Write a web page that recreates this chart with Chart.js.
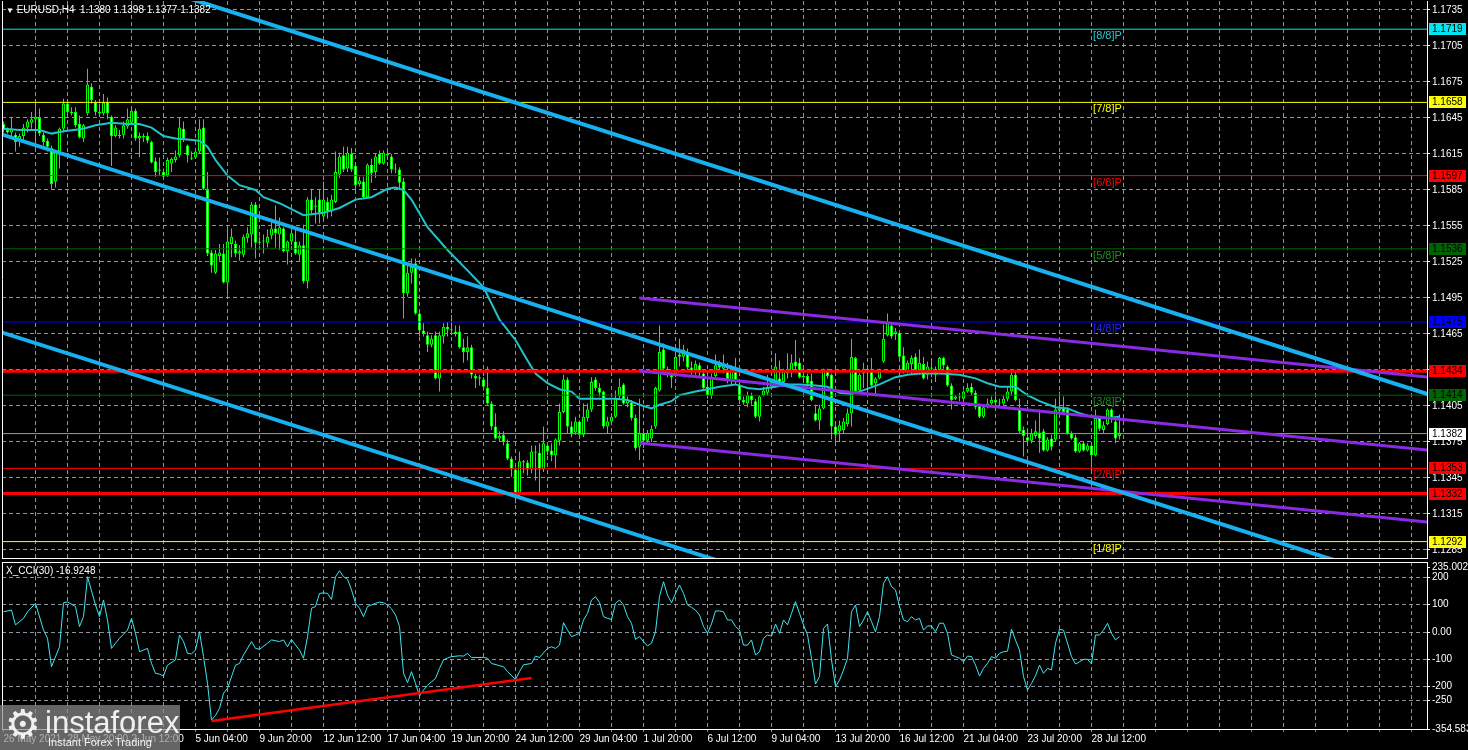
<!DOCTYPE html>
<html>
<head>
<meta charset="utf-8">
<title>EURUSD H4</title>
<script src="https://cdn.jsdelivr.net/npm/chart.js@4.4.1/dist/chart.umd.min.js"></script>
<style>
  html, body { margin: 0; padding: 0; background: #000; overflow: hidden; }
  #wrap { position: relative; width: 1468px; height: 750px; background: #000; }
  canvas { position: absolute; left: 0; }
  #main { top: 0; }
  #cci { top: 560px; }
  .t { position: absolute; color: #fff; font: 10px "Liberation Sans", Arial, sans-serif; white-space: pre; }
  #logo { position: absolute; left: 0; top: 705px; width: 180px; height: 45px; background: rgba(140,140,140,0.72); color: rgba(255,255,255,0.9); font-family: "Liberation Sans", Arial, sans-serif; }
  #logo span { position: absolute; white-space: pre; }
</style>
</head>
<body>
<div id="wrap">
  <canvas id="main" width="1468" height="560"></canvas>
  <canvas id="cci" width="1468" height="190"></canvas>
  <div class="t" style="left:6px;top:4px"><span style="font-size:8px">▼</span> EURUSD,H4  1.1380 1.1398 1.1377 1.1382</div>
  <div class="t" style="left:6px;top:565px">X_CCI(30) -16.9248</div>
  <div id="logo">
    <span style="left:5px;top:-4px;font-family:'DejaVu Sans';font-size:40px">⚙</span>
    <span style="left:45px;top:0px;font-size:31px">instaforex</span>
    <span style="left:48px;top:31px;font-size:11px">Instant Forex Trading</span>
  </div>
</div>
<script>
// EURUSD H4 candles, bar 0 = 26 May 2021 (one bar = 4 hours)
var open = [
  1.1640,1.1635,1.1633,1.1631,1.1626,1.1630,1.1637,1.1641,1.1644,1.1645,
  1.1631,1.1626,1.1620,1.1592,1.1617,1.1636,1.1657,1.1650,1.1650,1.1640,
  1.1628,1.1649,1.1671,1.1658,1.1649,1.1649,1.1658,1.1646,1.1630,1.1631,
  1.1631,1.1638,1.1641,1.1651,1.1628,1.1630,1.1630,1.1625,1.1609,1.1601,
  1.1600,1.1597,1.1607,1.1610,1.1614,1.1636,1.1622,1.1612,1.1612,1.1617,
  1.1637,1.1585,1.1533,1.1516,1.1530,1.1532,1.1508,1.1540,1.1540,1.1532,
  1.1531,1.1545,1.1548,1.1573,1.1541,1.1542,1.1541,1.1547,1.1553,1.1548,
  1.1553,1.1534,1.1542,1.1542,1.1531,1.1539,1.1509,1.1577,1.1571,1.1577,
  1.1563,1.1575,1.1567,1.1575,1.1598,1.1614,1.1603,1.1615,1.1605,1.1590,
  1.1592,1.1579,1.1606,1.1600,1.1615,1.1607,1.1615,1.1613,1.1602,1.1602,
  1.1592,1.1499,1.1516,1.1524,1.1482,1.1468,1.1464,1.1456,1.1464,1.1428,
  1.1463,1.1471,1.1469,1.1467,1.1467,1.1454,1.1450,1.1454,1.1430,1.1428,
  1.1427,1.1420,1.1407,1.1388,1.1378,1.1381,1.1374,1.1361,1.1352,1.1332,
  1.1359,1.1358,1.1352,1.1367,1.1366,1.1352,1.1372,1.1368,1.1364,1.1376,
  1.1400,1.1427,1.1388,1.1383,1.1392,1.1381,1.1395,1.1402,1.1427,1.1420,
  1.1417,1.1388,1.1392,1.1396,1.1413,1.1423,1.1407,1.1408,1.1395,1.1371,
  1.1382,1.1376,1.1378,1.1388,1.1418,1.1452,1.1436,1.1432,1.1430,1.1448,
  1.1446,1.1450,1.1437,1.1435,1.1439,1.1432,1.1421,1.1414,1.1430,1.1440,
  1.1436,1.1435,1.1426,1.1434,1.1423,1.1410,1.1407,1.1414,1.1409,1.1396,
  1.1414,1.1416,1.1421,1.1425,1.1428,1.1425,1.1432,1.1434,1.1442,1.1441,
  1.1429,1.1430,1.1426,1.1399,1.1393,1.1403,1.1435,1.1431,1.1388,1.1384,
  1.1385,1.1390,1.1399,1.1445,1.1418,1.1432,1.1436,1.1434,1.1424,1.1428,
  1.1442,1.1464,1.1472,1.1465,1.1466,1.1447,1.1434,1.1440,1.1446,1.1435,
  1.1440,1.1431,1.1437,1.1436,1.1435,1.1445,1.1438,1.1422,1.1411,1.1413,
  1.1411,1.1417,1.1421,1.1416,1.1405,1.1396,1.1404,1.1407,1.1410,1.1408,
  1.1407,1.1411,1.1417,1.1431,1.1403,1.1385,1.1379,1.1376,1.1380,1.1383,
  1.1384,1.1368,1.1378,1.1377,1.1401,1.1403,1.1402,1.1382,1.1379,1.1367,
  1.1374,1.1368,1.1372,1.1364,1.1395,1.1385,1.1390,1.1402,1.1392,1.1380
];
var high = [
  1.1642,1.1637,1.1646,1.1633,1.1632,1.1640,1.1644,1.1650,1.1661,1.1653,
  1.1633,1.1628,1.1622,1.1618,1.1637,1.1661,1.1660,1.1654,1.1654,1.1647,
  1.1640,1.1686,1.1674,1.1660,1.1657,1.1665,1.1662,1.1647,1.1639,1.1635,
  1.1642,1.1653,1.1655,1.1653,1.1633,1.1632,1.1633,1.1626,1.1612,1.1612,
  1.1603,1.1612,1.1612,1.1618,1.1645,1.1642,1.1623,1.1617,1.1619,1.1644,
  1.1644,1.1600,1.1535,1.1535,1.1540,1.1540,1.1554,1.1553,1.1543,1.1539,
  1.1548,1.1554,1.1575,1.1575,1.1546,1.1548,1.1552,1.1561,1.1572,1.1562,
  1.1554,1.1543,1.1556,1.1552,1.1542,1.1556,1.1579,1.1586,1.1579,1.1585,
  1.1592,1.1579,1.1581,1.1617,1.1616,1.1621,1.1621,1.1620,1.1607,1.1596,
  1.1596,1.1607,1.1611,1.1615,1.1618,1.1618,1.1617,1.1615,1.1607,1.1604,
  1.1595,1.1524,1.1528,1.1528,1.1484,1.1474,1.1467,1.1464,1.1467,1.1467,
  1.1474,1.1475,1.1481,1.1472,1.1472,1.1461,1.1463,1.1456,1.1432,1.1431,
  1.1429,1.1438,1.1409,1.1399,1.1384,1.1384,1.1377,1.1363,1.1354,1.1367,
  1.1360,1.1360,1.1372,1.1372,1.1374,1.1388,1.1375,1.1374,1.1378,1.1407,
  1.1431,1.1429,1.1392,1.1396,1.1393,1.1407,1.1407,1.1429,1.1429,1.1424,
  1.1418,1.1396,1.1399,1.1418,1.1428,1.1424,1.1413,1.1410,1.1398,1.1411,
  1.1385,1.1385,1.1389,1.1421,1.1472,1.1457,1.1438,1.1434,1.1448,1.1461,
  1.1456,1.1453,1.1442,1.1443,1.1441,1.1434,1.1424,1.1432,1.1448,1.1443,
  1.1448,1.1441,1.1439,1.1445,1.1427,1.1413,1.1417,1.1416,1.1411,1.1414,
  1.1421,1.1431,1.1427,1.1449,1.1443,1.1436,1.1449,1.1448,1.1460,1.1445,
  1.1434,1.1432,1.1432,1.1406,1.1406,1.1436,1.1436,1.1432,1.1392,1.1393,
  1.1395,1.1403,1.1461,1.1446,1.1432,1.1441,1.1439,1.1445,1.1429,1.1436,
  1.1473,1.1482,1.1474,1.1470,1.1467,1.1454,1.1443,1.1447,1.1449,1.1452,
  1.1446,1.1442,1.1445,1.1438,1.1446,1.1446,1.1439,1.1424,1.1414,1.1416,
  1.1418,1.1424,1.1424,1.1418,1.1407,1.1406,1.1411,1.1413,1.1417,1.1411,
  1.1414,1.1421,1.1435,1.1435,1.1411,1.1388,1.1386,1.1386,1.1393,1.1402,
  1.1386,1.1379,1.1381,1.1411,1.1417,1.1413,1.1404,1.1384,1.1381,1.1375,
  1.1375,1.1374,1.1374,1.1402,1.1396,1.1392,1.1403,1.1403,1.1396,1.1398
];
var low = [
  1.1633,1.1632,1.1628,1.1617,1.1621,1.1626,1.1633,1.1636,1.1618,1.1630,
  1.1622,1.1617,1.1586,1.1587,1.1603,1.1633,1.1647,1.1647,1.1637,1.1628,
  1.1625,1.1647,1.1657,1.1647,1.1647,1.1647,1.1644,1.1605,1.1629,1.1628,
  1.1628,1.1636,1.1639,1.1626,1.1612,1.1625,1.1624,1.1607,1.1596,1.1597,
  1.1594,1.1596,1.1600,1.1608,1.1612,1.1625,1.1608,1.1610,1.1611,1.1615,
  1.1585,1.1530,1.1516,1.1515,1.1526,1.1507,1.1498,1.1529,1.1529,1.1526,
  1.1529,1.1541,1.1537,1.1528,1.1539,1.1532,1.1537,1.1544,1.1537,1.1535,
  1.1533,1.1523,1.1539,1.1531,1.1525,1.1507,1.1503,1.1564,1.1557,1.1557,
  1.1561,1.1561,1.1563,1.1574,1.1595,1.1600,1.1600,1.1600,1.1584,1.1588,
  1.1578,1.1578,1.1591,1.1595,1.1606,1.1606,1.1610,1.1599,1.1599,1.1585,
  1.1478,1.1496,1.1507,1.1481,1.1463,1.1463,1.1450,1.1454,1.1427,1.1417,
  1.1457,1.1463,1.1464,1.1463,1.1453,1.1441,1.1443,1.1428,1.1420,1.1422,
  1.1418,1.1406,1.1385,1.1377,1.1375,1.1372,1.1360,1.1346,1.1324,1.1329,
  1.1349,1.1347,1.1349,1.1343,1.1332,1.1350,1.1364,1.1359,1.1353,1.1372,
  1.1399,1.1382,1.1379,1.1381,1.1379,1.1379,1.1392,1.1400,1.1418,1.1413,
  1.1386,1.1382,1.1389,1.1395,1.1410,1.1406,1.1404,1.1393,1.1368,1.1360,
  1.1370,1.1374,1.1375,1.1386,1.1417,1.1435,1.1429,1.1420,1.1429,1.1438,
  1.1442,1.1434,1.1431,1.1431,1.1429,1.1418,1.1411,1.1411,1.1429,1.1434,
  1.1432,1.1424,1.1423,1.1423,1.1407,1.1406,1.1404,1.1406,1.1395,1.1392,
  1.1413,1.1414,1.1420,1.1424,1.1424,1.1424,1.1428,1.1429,1.1435,1.1428,
  1.1425,1.1421,1.1409,1.1392,1.1385,1.1402,1.1428,1.1377,1.1375,1.1375,
  1.1382,1.1388,1.1388,1.1416,1.1417,1.1420,1.1416,1.1421,1.1413,1.1427,
  1.1441,1.1463,1.1461,1.1460,1.1445,1.1432,1.1432,1.1431,1.1434,1.1431,
  1.1427,1.1427,1.1429,1.1425,1.1434,1.1436,1.1421,1.1402,1.1410,1.1409,
  1.1409,1.1416,1.1414,1.1402,1.1395,1.1395,1.1403,1.1406,1.1404,1.1404,
  1.1406,1.1409,1.1414,1.1409,1.1382,1.1363,1.1372,1.1374,1.1378,1.1366,
  1.1367,1.1367,1.1368,1.1375,1.1399,1.1399,1.1381,1.1377,1.1366,1.1366,
  1.1367,1.1367,1.1350,1.1363,1.1384,1.1382,1.1389,1.1391,1.1374,1.1377
];
var close = [
  1.1635,1.1633,1.1636,1.1625,1.1630,1.1637,1.1642,1.1644,1.1646,1.1632,
  1.1625,1.1621,1.1590,1.1617,1.1636,1.1657,1.1650,1.1649,1.1639,1.1629,
  1.1639,1.1673,1.1660,1.1650,1.1650,1.1658,1.1649,1.1630,1.1637,1.1630,
  1.1639,1.1644,1.1651,1.1628,1.1630,1.1629,1.1626,1.1608,1.1600,1.1602,
  1.1596,1.1610,1.1611,1.1613,1.1637,1.1628,1.1614,1.1611,1.1617,1.1636,
  1.1586,1.1532,1.1522,1.1532,1.1533,1.1508,1.1542,1.1546,1.1532,1.1534,
  1.1546,1.1549,1.1573,1.1541,1.1542,1.1543,1.1546,1.1553,1.1549,1.1554,
  1.1534,1.1542,1.1549,1.1532,1.1539,1.1509,1.1577,1.1568,1.1572,1.1566,
  1.1577,1.1567,1.1577,1.1600,1.1613,1.1602,1.1616,1.1602,1.1589,1.1593,
  1.1579,1.1606,1.1599,1.1613,1.1607,1.1616,1.1614,1.1602,1.1603,1.1591,
  1.1499,1.1516,1.1521,1.1482,1.1468,1.1465,1.1456,1.1461,1.1428,1.1464,
  1.1471,1.1469,1.1468,1.1465,1.1454,1.1450,1.1454,1.1431,1.1428,1.1429,
  1.1421,1.1407,1.1388,1.1378,1.1380,1.1375,1.1361,1.1352,1.1331,1.1359,
  1.1358,1.1352,1.1367,1.1366,1.1352,1.1374,1.1367,1.1364,1.1377,1.1400,
  1.1427,1.1388,1.1382,1.1392,1.1381,1.1396,1.1402,1.1425,1.1420,1.1416,
  1.1388,1.1392,1.1396,1.1411,1.1421,1.1407,1.1410,1.1395,1.1370,1.1382,
  1.1376,1.1382,1.1386,1.1420,1.1450,1.1436,1.1432,1.1429,1.1446,1.1446,
  1.1452,1.1437,1.1434,1.1440,1.1434,1.1420,1.1414,1.1429,1.1439,1.1437,
  1.1439,1.1427,1.1434,1.1426,1.1410,1.1408,1.1414,1.1410,1.1396,1.1413,
  1.1418,1.1421,1.1425,1.1438,1.1425,1.1435,1.1436,1.1441,1.1438,1.1429,
  1.1430,1.1424,1.1410,1.1393,1.1403,1.1435,1.1430,1.1388,1.1381,1.1389,
  1.1392,1.1399,1.1446,1.1417,1.1431,1.1436,1.1434,1.1422,1.1428,1.1434,
  1.1461,1.1474,1.1463,1.1467,1.1446,1.1434,1.1441,1.1445,1.1435,1.1441,
  1.1428,1.1438,1.1436,1.1431,1.1445,1.1439,1.1422,1.1410,1.1413,1.1412,
  1.1417,1.1420,1.1416,1.1404,1.1396,1.1404,1.1407,1.1410,1.1408,1.1407,
  1.1411,1.1417,1.1431,1.1410,1.1384,1.1380,1.1376,1.1382,1.1384,1.1378,
  1.1368,1.1377,1.1371,1.1402,1.1403,1.1400,1.1382,1.1378,1.1367,1.1374,
  1.1368,1.1372,1.1364,1.1396,1.1386,1.1389,1.1402,1.1395,1.1378,1.1382
];

// moving average (bar index, price)
var maBars = [0,4,9,12,15,20,23,27,31,34,37,40,43,46,49,51,53,56,59,63,65,69,72,75,80,84,88,92,96,98,
  100,102,106,111,116,120,124,128,131,133,136,139,142,144,149,153,156,159,162,164,167,169,173,176,179,
  183,186,189,193,196,199,203,206,209,212,214,219,223,226,229,234,239,243,246,249,253,256,259,263,266,
  269,273,276,279];
var maValues = [1.1636,1.1635,1.1635,1.1632,1.1634,1.1636,1.1639,1.1641,1.1640,1.1640,1.1637,1.1630,1.1628,
  1.1627,1.1626,1.1621,1.1610,1.1597,1.1589,1.1585,1.1579,1.1574,1.1569,1.1564,1.1566,1.1570,1.1577,1.1579,
  1.1586,1.1587,1.1585,1.1577,1.1554,1.1535,1.1518,1.1504,1.1477,1.1460,1.1443,1.1432,1.1424,1.1419,1.1417,
  1.1411,1.1411,1.1411,1.1410,1.1406,1.1403,1.1406,1.1409,1.1414,1.1417,1.1419,1.1421,1.1423,1.1420,1.1419,
  1.1421,1.1423,1.1423,1.1422,1.1421,1.1416,1.1415,1.1417,1.1423,1.1429,1.1431,1.1432,1.1432,1.1431,1.1428,
  1.1424,1.1421,1.1421,1.1414,1.1409,1.1404,1.1403,1.1399,1.1395,1.1395,1.1396];

// CCI(30) (bar index, value)
var cciBars = [0,2,3,5,6,8,10,11,12,14,15,16,18,19,20,21,23,24,25,26,27,28,29,31,32,33,34,35,36,37,38,39,40,41,
  43,44,45,46,47,48,49,50,51,52,53,54,55,56,58,59,60,62,63,64,66,67,69,70,71,72,73,74,75,76,77,78,79,80,81,82,
  83,84,85,86,87,88,89,90,91,93,94,95,96,97,98,99,100,101,102,103,104,105,106,107,108,109,110,111,112,114,115,
  116,117,120,121,122,125,126,128,129,130,132,133,134,136,137,138,139,140,141,142,143,144,145,146,147,148,149,
  150,151,152,153,154,155,156,157,158,159,160,161,162,163,164,165,166,167,168,169,170,171,172,173,174,175,176,
  177,178,179,180,181,182,183,184,185,186,187,188,189,190,191,192,193,194,195,196,197,198,199,200,201,202,203,
  204,205,206,207,208,209,210,211,212,213,214,215,216,217,218,219,220,221,222,223,224,225,226,227,228,229,230,
  231,232,233,234,235,236,237,238,239,240,241,242,243,244,245,246,247,248,249,250,251,252,253,254,255,256,257,
  258,259,260,261,262,263,264,265,266,267,268,269,270,271,272,273,274,275,276,277,278,279];
var cciValues = [74,80,26,50,74,105,7,-23,-127,-54,107,110,93,20,56,202,99,56,117,44,-60,-41,-23,7,50,-5,-72,
  -66,-60,-115,-151,-154,-161,-121,-102,-11,-35,-78,-80,-66,1,-90,-188,-322,-305,-279,-224,-206,-121,-115,-84,
  -35,-60,-63,-41,-29,-35,-29,-54,-27,-48,-66,-96,-17,87,93,141,143,141,119,202,224,202,193,154,105,87,56,93,
  105,109,107,99,85,62,20,-150,-185,-145,-188,-234,-212,-195,-182,-170,-133,-102,-95,-90,-87,-88,-78,-93,-93,
  -96,-115,-127,-145,-173,-145,-120,-115,-88,-93,-60,-54,-60,-48,34,7,-17,-11,-5,44,68,117,129,108,56,50,46,105,
  117,99,56,32,-27,-17,-35,-51,-41,1,130,184,135,107,141,172,141,99,90,80,62,20,-5,30,77,77,74,44,44,20,7,-48,
  -48,-29,-84,-72,-23,-11,-15,29,-5,44,26,68,111,68,26,-11,-96,-190,-163,13,29,-102,-200,-176,-139,-96,74,99,20,
  44,74,38,1,56,178,202,166,154,93,44,38,56,44,50,7,22,22,1,32,32,-5,-84,-90,-96,-109,-88,-90,-121,-161,-133,
  -115,-90,-96,-78,-72,-70,10,-30,-66,-163,-212,-188,-160,-121,-151,-133,-139,-41,10,7,-41,-90,-117,-109,-100,
  -100,-117,-11,-11,7,32,-5,-29,-17];
var cciTrend = [[52, -325], [132, -168]];

// trend channels and drawn lines (bar index, price)
var channelTop = [[40, 1.17515], [356, 1.14149]];
var channelMid = [[-1, 1.16319], [356, 1.12517]];
var channelLow = [[-1, 1.14669], [356, 1.10877]];
var purpleTop = [[159, 1.14950], [356, 1.14292]];
var purpleMid = [[159, 1.14342], [356, 1.13683]];
var purpleLow = [[159, 1.13742], [356, 1.13083]];

// horizontal levels
var levelValues = [1.1719, 1.1658, 1.1597, 1.1536, 1.1475, 1.1434, 1.1414, 1.1382, 1.1353, 1.1332, 1.1292];
var murreyNames = ['[8/8]P', '[7/8]P', '[6/8]P', '[5/8]P', '[4/8]P', '[3/8]P', '[2/8]P', '[1/8]P'];
var murreyValues = [1.1719, 1.1658, 1.1597, 1.1536, 1.1475, 1.1414, 1.1353, 1.1292];

// axes
var priceTicks = [1.1735, 1.1705, 1.1675, 1.1645, 1.1615, 1.1585, 1.1555, 1.1525, 1.1495, 1.1465,
  1.1435, 1.1405, 1.1375, 1.1345, 1.1315, 1.1285];
var cciTicks = [235.0021, 200, 100, 0, -100, -200, -250, -354.583];
var timeBars = [0, 16, 32, 48, 64, 80, 96, 112, 128, 144, 160, 176, 192, 208, 224, 240, 256, 272];
var timeLabels = ['26 May 2021', '28 May 20:00', '2 Jun 12:00', '5 Jun 04:00', '9 Jun 20:00', '12 Jun 12:00',
  '17 Jun 04:00', '19 Jun 20:00', '24 Jun 12:00', '29 Jun 04:00', '1 Jul 20:00', '6 Jul 12:00', '9 Jul 04:00',
  '13 Jul 20:00', '16 Jul 12:00', '21 Jul 04:00', '23 Jul 20:00', '28 Jul 12:00'];

// styles
var FONT = '"Liberation Sans", Arial, sans-serif';
var GRID = 'rgba(165,172,182,0.85)';
var DASH = [4, 3];
var levelColors = ['#00E6F2', '#FFFF00', '#FF0000', '#006400', '#0000FF', '#FF0000', '#006400', '#9A9A9A', '#FF0000', '#FF0000', '#FFFF00'];
var levelWidths = [1, 1, 1, 1, 1, 3, 1, 1, 1, 3, 1];
var tagColors = ['#00E6F2', '#FFFF00', '#FF0000', '#006400', '#0000FF', '#FF0000', '#006400', '#FFFFFF', '#FF0000', '#FF0000', '#FFFF00'];
var murreyColors = ['#2CC8C8', '#FFFF00', '#FF0000', '#1E8C1E', '#2020FF', '#1E8C1E', '#FF0000', '#FFFF00'];
var CHANNEL = '#18B0EE';
var PURPLE = '#8A2BE2';

var X_MIN = -0.375, X_MAX = 355.875;
var gridBars = [];
for (var g = 0; g <= 352; g += 8) gridBars.push(g);

function seg(points, color, width, order) {
  return {
    type: 'line',
    data: points.map(function (p) { return { x: p[0], y: p[1] }; }),
    borderColor: color, borderWidth: width, pointRadius: 0, tension: 0, order: order, clip: 0
  };
}

var framePlugin = {
  id: 'frame',
  afterDraw: function (chart, args, opts) {
    var ctx = chart.ctx, a = chart.chartArea;
    ctx.save();
    ctx.strokeStyle = '#fff';
    ctx.lineWidth = 1;
    ctx.beginPath();
    ctx.moveTo(a.left + 0.5, a.top);
    ctx.lineTo(a.left + 0.5, a.bottom);
    if (opts.top) {
      ctx.moveTo(a.left, a.top + 0.5);
      ctx.lineTo(a.right, a.top + 0.5);
    }
    ctx.stroke();
    ctx.restore();
  }
};

var tagPlugin = {
  id: 'tags',
  afterDraw: function (chart) {
    var ctx = chart.ctx, y = chart.scales.y, x = chart.scales.x;
    ctx.save();
    ctx.textBaseline = 'top';
    ctx.font = '11px ' + FONT;
    murreyValues.forEach(function (v, k) {
      ctx.fillStyle = murreyColors[k];
      ctx.fillText(murreyNames[k], x.getPixelForValue(272.4), Math.round(y.getPixelForValue(v)) + 1);
    });
    ctx.font = '10px ' + FONT;
    ctx.textBaseline = 'middle';
    levelValues.forEach(function (v, k) {
      var py = Math.round(y.getPixelForValue(v));
      ctx.fillStyle = tagColors[k];
      ctx.fillRect(y.left + 2, py - 6, 37, 12);
      ctx.fillStyle = '#000';
      ctx.fillText(v.toFixed(4), y.left + 5, py + 0.5);
    });
    ctx.restore();
  }
};

var datasets = [];
datasets.push(seg(channelTop, CHANNEL, 4, 0));
datasets.push(seg(channelMid, CHANNEL, 4, 0));
datasets.push(seg(channelLow, CHANNEL, 4, 0));
datasets.push(seg(purpleTop, PURPLE, 3, 1));
datasets.push(seg(purpleMid, PURPLE, 3, 1));
datasets.push(seg(purpleLow, PURPLE, 3, 1));
levelValues.forEach(function (v, k) {
  datasets.push(seg([[-1, v], [357, v]], levelColors[k], levelWidths[k], 2));
});
datasets.push({
  type: 'line',
  data: maBars.map(function (b, k) { return { x: b, y: maValues[k] }; }),
  borderColor: '#22C2CA', borderWidth: 2, pointRadius: 0, tension: 0, order: 3, clip: 0
});
datasets.push({
  type: 'bar',
  data: close.map(function (c, i) { return { x: i, y: [Math.min(open[i], c), Math.max(open[i], c)] }; }),
  backgroundColor: close.map(function (c, i) { return c >= open[i] ? '#000000' : '#FFFFFF'; }),
  borderColor: '#00FF00', borderWidth: 1, borderSkipped: false, barThickness: 3,
  minBarLength: 1, grouped: false, inflateAmount: 0, order: 4
});
datasets.push({
  type: 'bar',
  data: close.map(function (c, i) { return { x: i, y: [low[i], high[i]] }; }),
  backgroundColor: '#00FF00', borderWidth: 0, barThickness: 1,
  grouped: false, inflateAmount: 0, order: 5
});

new Chart(document.getElementById('main'), {
  type: 'bar',
  data: { datasets: datasets },
  options: {
    responsive: false, animation: false, devicePixelRatio: 1,
    layout: { padding: { left: 2, top: 1, right: 0, bottom: 0 }, autoPadding: false },
    plugins: { legend: { display: false }, tooltip: { enabled: false }, frame: { top: false } },
    scales: {
      x: {
        type: 'linear', min: X_MIN, max: X_MAX, offset: false,
        afterBuildTicks: function (s) { s.ticks = gridBars.map(function (v) { return { value: v }; }); },
        afterFit: function (s) { s.height = 2; s.paddingLeft = 0; s.paddingRight = 0; },
        ticks: { display: false },
        grid: {
          offset: false, drawTicks: false,
          color: function (c) { return c.tick && c.tick.value === 0 ? 'rgba(0,0,0,0)' : GRID; }
        },
        border: { color: '#fff', dash: DASH }
      },
      y: {
        position: 'right', min: 1.127833, max: 1.17425,
        afterBuildTicks: function (s) { s.ticks = priceTicks.map(function (v) { return { value: v }; }); },
        afterFit: function (s) { s.width = 41; s.paddingTop = 0; s.paddingBottom = 0; },
        ticks: {
          color: '#fff', font: { family: FONT, size: 10 }, padding: 2, autoSkip: false,
          callback: function (v) { return v.toFixed(4); }
        },
        grid: { color: GRID, tickColor: '#fff', tickLength: 3, tickBorderDash: [] },
        border: { color: '#fff', dash: DASH }
      }
    }
  },
  plugins: [framePlugin, tagPlugin]
});

new Chart(document.getElementById('cci'), {
  type: 'line',
  data: {
    datasets: [
      {
        data: cciTrend.map(function (p) { return { x: p[0], y: p[1] }; }),
        borderColor: '#FF0000', borderWidth: 2.5, pointRadius: 0, order: 0, clip: 0
      },
      {
        data: cciBars.map(function (b, k) { return { x: b, y: cciValues[k] }; }),
        borderColor: '#40E6F0', borderWidth: 1, pointRadius: 0, tension: 0, order: 1, clip: 0
      }
    ]
  },
  options: {
    responsive: false, animation: false, devicePixelRatio: 1,
    layout: { padding: { left: 2, top: 2, right: 0, bottom: 0 }, autoPadding: false },
    plugins: { legend: { display: false }, tooltip: { enabled: false }, frame: { top: true } },
    scales: {
      x: {
        type: 'linear', min: X_MIN, max: X_MAX, offset: false,
        afterBuildTicks: function (s) { s.ticks = gridBars.map(function (v) { return { value: v }; }); },
        afterFit: function (s) { s.height = 21; s.paddingLeft = 0; s.paddingRight = 0; },
        ticks: {
          color: '#fff', font: { family: FONT, size: 10 }, align: 'start', maxRotation: 0,
          autoSkip: false, padding: 1,
          callback: function (v) { var k = timeBars.indexOf(v); return k >= 0 ? timeLabels[k] : ''; }
        },
        grid: {
          offset: false, tickLength: 3, tickColor: '#888', tickBorderDash: [],
          color: function (c) { return c.tick && c.tick.value === 0 ? 'rgba(0,0,0,0)' : GRID; }
        },
        border: { color: '#fff', dash: DASH }
      },
      y: {
        position: 'right', min: -354.583, max: 255.9,
        afterBuildTicks: function (s) { s.ticks = cciTicks.map(function (v) { return { value: v }; }); },
        afterFit: function (s) { s.width = 41; s.paddingTop = 0; s.paddingBottom = 0; },
        ticks: {
          color: '#fff', font: { family: FONT, size: 10 }, padding: 2, autoSkip: false,
          callback: function (v) { return v === 0 ? '0.00' : String(v); }
        },
        grid: {
          tickColor: '#fff', tickLength: 3, tickBorderDash: [],
          color: function (c) {
            var v = c.tick ? c.tick.value : null;
            return (v === 235.0021 || v === -354.583) ? 'rgba(0,0,0,0)' : GRID;
          }
        },
        border: { color: '#fff', dash: DASH }
      }
    }
  },
  plugins: [framePlugin]
});
</script>
</body>
</html>
